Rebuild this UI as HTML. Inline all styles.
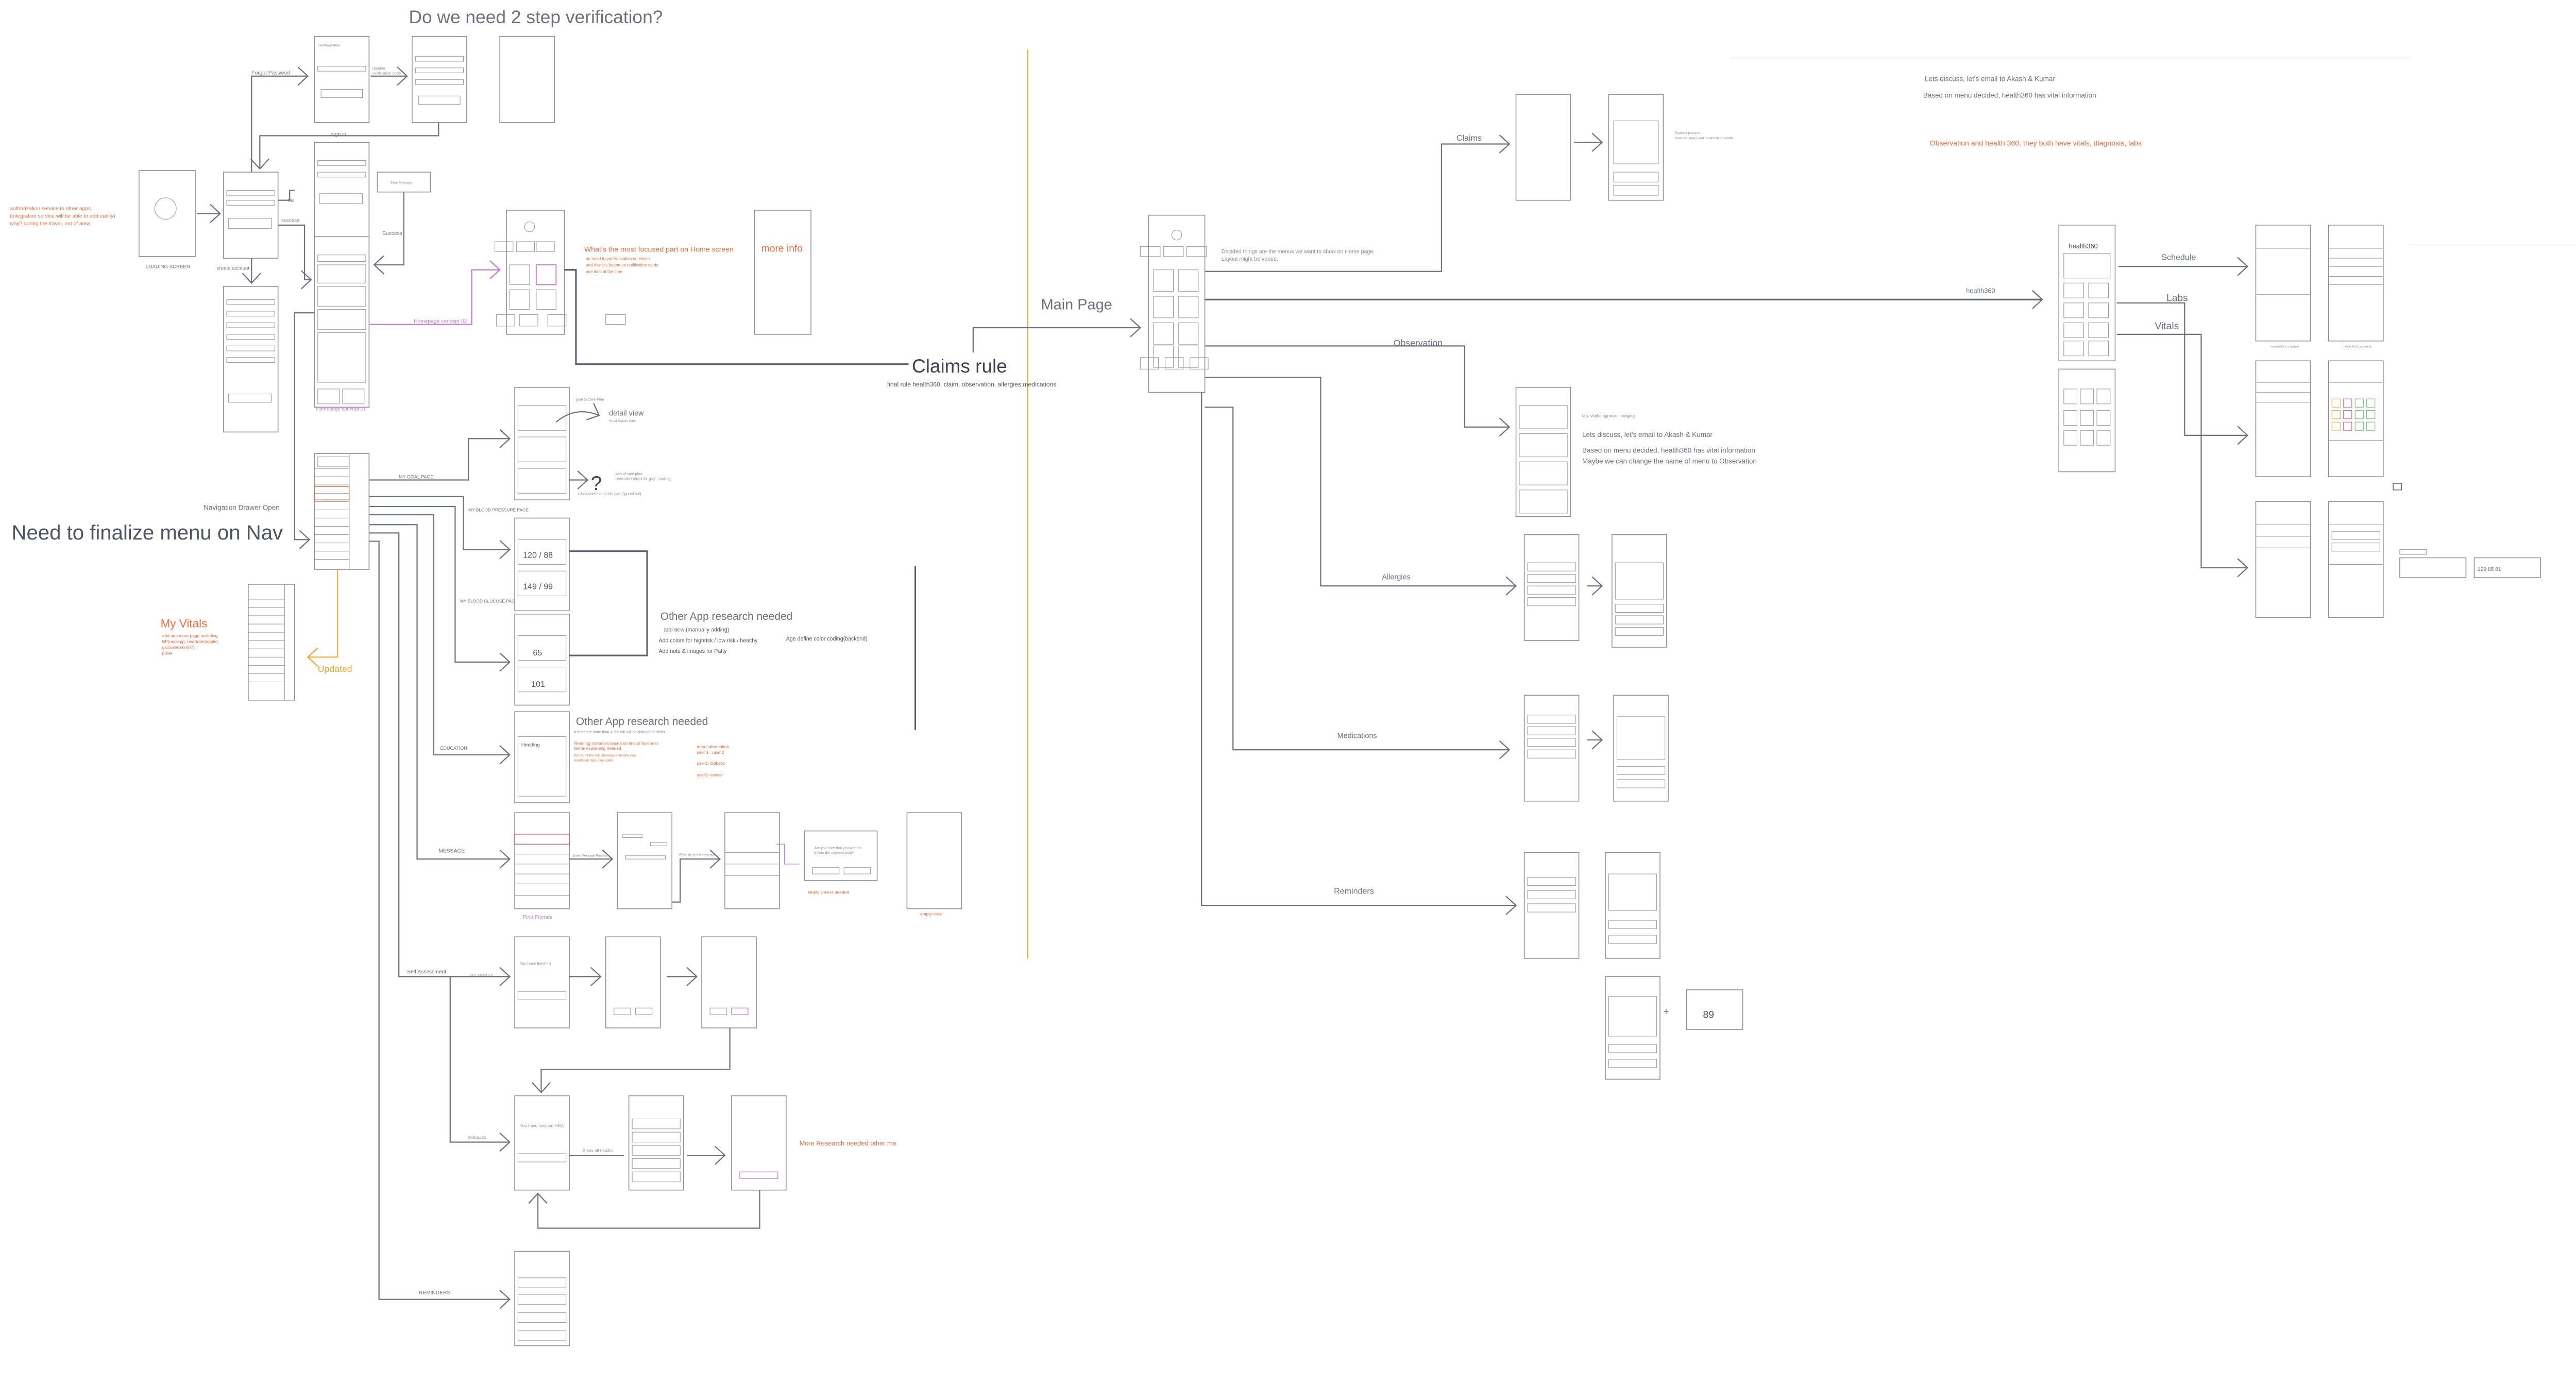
<!DOCTYPE html>
<html><head><meta charset="utf-8"><style>
html,body{margin:0;padding:0;background:#fff;}
svg{display:block;}
text{font-family:"Liberation Sans",sans-serif;}
.p{fill:#fff;stroke:#8d909c;stroke-width:.5}
.b{fill:none;stroke:#9a9caa;stroke-width:.35}
.l{fill:none;stroke:#6e7185;stroke-width:.7}
.L{fill:none;stroke:#5e6275;stroke-width:1}
.g{fill:#6d7080}
.o{fill:#f26a3a}
.s{fill:#8d909c}
</style></head><body>
<svg width="5037" height="2715" viewBox="0 0 1568 845.2" preserveAspectRatio="none" xmlns="http://www.w3.org/2000/svg">
<defs>
<marker id="a" markerUnits="userSpaceOnUse" markerWidth="10" markerHeight="12" refX="7" refY="6" orient="auto"><path d="M1 0.5 L7 6 L1 11.5" fill="none" stroke="#6e7185" stroke-width=".7"/></marker>
<marker id="ao" markerUnits="userSpaceOnUse" markerWidth="10" markerHeight="12" refX="7" refY="6" orient="auto"><path d="M1 0.5 L7 6 L1 11.5" fill="none" stroke="#f5a623" stroke-width=".7"/></marker>
<marker id="ap" markerUnits="userSpaceOnUse" markerWidth="10" markerHeight="12" refX="7" refY="6" orient="auto"><path d="M1 0.5 L7 6 L1 11.5" fill="none" stroke="#c67ad8" stroke-width=".7"/></marker>
</defs>
<rect width="1568" height="845.2" fill="#fff"/>

<!-- faint lines -->
<line x1="1046" y1="35" x2="1457" y2="35" stroke="#e6e6ea" stroke-width=".4"/>
<line x1="1455" y1="148" x2="1568" y2="148" stroke="#e6e6ea" stroke-width=".4"/>
<!-- orange vertical -->
<line x1="621" y1="30" x2="621" y2="579" stroke="#f5a623" stroke-width=".6"/>
<line x1="553" y1="342" x2="553" y2="441" stroke="#3d4150" stroke-width=".8"/>

<!-- TITLES -->
<text x="247" y="14" font-size="11" class="g">Do we need 2 step verification?</text>
<text x="7" y="326" font-size="12.5" fill="#4f5364">Need to finalize menu on Nav</text>
<text x="123" y="308" font-size="4.2" class="g">Navigation Drawer  Open</text>
<text x="551" y="225" font-size="11.5" fill="#3d4150">Claims rule</text>
<text x="536" y="233.5" font-size="3.8" fill="#555a6e">final rule health360, claim, observation, allergies,medications</text>
<text x="629" y="187" font-size="9" class="g">Main Page</text>

<!-- LEFT AREA phones -->
<rect class="p" x="190" y="22" width="33" height="52"/>
<rect class="b" x="192" y="40" width="29" height="3"/><rect class="b" x="194" y="54" width="25" height="5"/>
<text x="192" y="28" font-size="2" class="s">healthwalletme</text>
<rect class="p" x="249" y="22" width="33" height="52"/>
<rect class="b" x="251" y="34" width="29" height="3"/><rect class="b" x="251" y="41" width="29" height="3"/><rect class="b" x="251" y="48" width="29" height="3"/><rect class="b" x="253" y="58" width="25" height="5"/>
<rect class="p" x="302" y="22" width="33" height="52"/>
<rect class="p" x="84" y="103" width="34" height="52"/>
<circle cx="100" cy="126" r="6.5" class="b"/>
<text x="88" y="162" font-size="3" class="g">LOADING SCREEN</text>
<rect class="p" x="135" y="104" width="33" height="52"/>
<rect class="b" x="137" y="115" width="29" height="3"/><rect class="b" x="137" y="121" width="29" height="3"/><rect class="b" x="138" y="132" width="26" height="6"/>
<rect class="p" x="135" y="173" width="33" height="88"/>
<rect class="b" x="137" y="181" width="29" height="3"/><rect class="b" x="137" y="188" width="29" height="3"/><rect class="b" x="137" y="195" width="29" height="3"/><rect class="b" x="137" y="202" width="29" height="3"/><rect class="b" x="137" y="209" width="29" height="3"/><rect class="b" x="137" y="216" width="29" height="3"/><rect class="b" x="138" y="238" width="26" height="5"/>
<rect class="p" x="190" y="86" width="33" height="58"/>
<rect class="b" x="192" y="97" width="29" height="3"/><rect class="b" x="192" y="104" width="29" height="3"/><rect class="b" x="193" y="117" width="26" height="6"/>
<rect class="p" x="228" y="104" width="32" height="12"/>
<text x="236" y="111" font-size="2" class="s">Error Message</text>
<rect class="p" x="190" y="143" width="33" height="103"/>
<rect class="b" x="192" y="154" width="29" height="4"/><rect class="b" x="192" y="160" width="29" height="11"/><rect class="b" x="192" y="173" width="29" height="12"/><rect class="b" x="192" y="187" width="29" height="12"/><rect class="b" x="192" y="201" width="29" height="30"/><rect class="b" x="192" y="235" width="13" height="9"/><rect class="b" x="207" y="235" width="13" height="9"/>
<text x="191" y="248" font-size="3" fill="#c67ad8">Homepage concept 01</text>
<rect class="p" x="306" y="127" width="35" height="75"/>
<circle cx="320" cy="137" r="3" class="b"/>
<rect class="b" x="299" y="146" width="11" height="6"/><rect class="b" x="312" y="146" width="11" height="6"/><rect class="b" x="324" y="146" width="11" height="6"/>
<rect class="b" x="308" y="160" width="12" height="12"/><rect class="p" x="324" y="160" width="12" height="12" style="stroke:#c67ad8;stroke-width:.6"/><rect class="b" x="308" y="175" width="12" height="12"/><rect class="b" x="324" y="175" width="12" height="12"/>
<rect class="b" x="300" y="190" width="11" height="7"/><rect class="b" x="314" y="190" width="11" height="7"/><rect class="b" x="331" y="190" width="11" height="7"/>
<rect class="b" x="366" y="190" width="12" height="6"/>
<rect class="p" x="456" y="127" width="34" height="75"/>
<text x="460" y="152" font-size="6" class="o">more info</text>
<text x="353" y="152" font-size="4.4" class="o">What's the most focused part on Home screen</text>
<text x="354" y="157" font-size="2.5" class="o">no need to put Education on Home</text>
<text x="354" y="161" font-size="2.5" class="o">add dismiss button on notification cards</text>
<text x="354" y="165" font-size="2.5" class="o">one item at the time</text>
<text x="250" y="195" font-size="3.2" fill="#c67ad8">Homepage concept 02</text>
<text x="6" y="127" font-size="3.2" class="o">authorization service to other apps.</text>
<text x="6" y="131.5" font-size="3.2" class="o">(integration service will be able to add easily)</text>
<text x="6" y="136" font-size="3.2" class="o">why? during the travel, out of area.</text>

<!-- left connectors -->
<polyline class="l" points="119,129 133,129" marker-end="url(#a)"/>
<polyline class="l" points="152,104 152,46 186,46" marker-end="url(#a)"/>
<text x="152" y="45" font-size="3.2" class="g">Forgot Passwod</text>
<polyline class="l" points="224,46 246,46" marker-end="url(#a)"/>
<text x="225" y="42" font-size="2.4" class="s">receive</text><text x="225" y="45" font-size="2.4" class="s">verification code</text>
<polyline class="l" points="265,74 265,82 157,82 157,102" marker-end="url(#a)"/>
<text x="200" y="82" font-size="3.2" class="g">sign in</text>
<polyline class="l" points="168,121 175,121 175,115 178,115"/>
<text x="174" y="122" font-size="3" class="g">fail</text>
<polyline class="l" points="168,136 184,136 184,169 188,169" marker-end="url(#a)"/>
<text x="170" y="134" font-size="3" class="g">success</text>
<polyline class="l" points="244,116 244,160 226,160" marker-end="url(#a)"/>
<text x="231" y="142" font-size="3.2" class="g">Success</text>
<polyline class="l" points="152,156 152,171" marker-end="url(#a)"/>
<text x="131" y="163" font-size="3" class="g">create account</text>
<polyline points="223,196 285,196 285,163 302,163" fill="none" stroke="#c67ad8" stroke-width=".7" marker-end="url(#ap)"/>
<polyline class="L" points="341,163 348,163 348,220 549,220"/>
<polyline class="l" points="588,213 588,198 689,198" marker-end="url(#a)"/>
<polyline class="l" points="190,189 178,189 178,326 187,326" marker-end="url(#a)"/>

<!-- Nav drawer -->
<rect class="p" x="190" y="274" width="33" height="70"/>
<rect class="b" x="192" y="276" width="19" height="6"/>
<g class="b"><line x1="190" y1="283" x2="211" y2="283"/><line x1="190" y1="288" x2="211" y2="288"/><line x1="190" y1="293" x2="211" y2="293"/><line x1="190" y1="298" x2="211" y2="298"/><line x1="190" y1="303" x2="211" y2="303"/><line x1="190" y1="308" x2="211" y2="308"/><line x1="190" y1="313" x2="211" y2="313"/><line x1="190" y1="318" x2="211" y2="318"/><line x1="190" y1="323" x2="211" y2="323"/><line x1="190" y1="328" x2="211" y2="328"/><line x1="190" y1="333" x2="211" y2="333"/><line x1="190" y1="338" x2="211" y2="338"/><line x1="211" y1="274" x2="211" y2="344"/></g>
<rect x="190" y="294" width="21" height="8" fill="none" stroke="#f26a3a" stroke-width=".4"/>
<rect class="p" x="150" y="353" width="28" height="70"/>
<g class="b"><line x1="150" y1="362" x2="172" y2="362"/><line x1="150" y1="367" x2="172" y2="367"/><line x1="150" y1="372" x2="172" y2="372"/><line x1="150" y1="377" x2="172" y2="377"/><line x1="150" y1="382" x2="172" y2="382"/><line x1="150" y1="387" x2="172" y2="387"/><line x1="150" y1="392" x2="172" y2="392"/><line x1="150" y1="397" x2="172" y2="397"/><line x1="150" y1="402" x2="172" y2="402"/><line x1="150" y1="407" x2="172" y2="407"/><line x1="150" y1="412" x2="172" y2="412"/><line x1="172" y1="353" x2="172" y2="423"/></g>
<text x="97" y="379" font-size="7" class="o">My Vitals</text>
<text x="98" y="385" font-size="2.6" class="o">add one more page including</text>
<text x="98" y="388.5" font-size="2.6" class="o">BP(nursing), heartrate(apple),</text>
<text x="98" y="392" font-size="2.6" class="o">glucose(omron?),</text>
<text x="98" y="395.5" font-size="2.6" class="o">pulse</text>
<polyline points="204,344 204,397 186,397" fill="none" stroke="#f5a623" stroke-width=".6" marker-end="url(#ao)"/>
<text x="192" y="406" font-size="5.5" fill="#f5a623">Updated</text>

<!-- nav connectors -->
<polyline class="l" points="223,290 283,290 283,265 308,265" marker-end="url(#a)"/>
<text x="241" y="289" font-size="2.8" class="g">MY GOAL PAGE</text>
<polyline class="l" points="223,300 280,300 280,332 308,332" marker-end="url(#a)"/>
<text x="283" y="309" font-size="2.6" class="g">MY BLOOD PRESSURE PAGE</text>
<polyline class="l" points="223,306 275,306 275,400 308,400" marker-end="url(#a)"/>
<text x="278" y="364" font-size="2.6" class="g">MY BLOOD GLUCOSE PAGE</text>
<polyline class="l" points="223,311 262,311 262,456 308,456" marker-end="url(#a)"/>
<text x="266" y="453" font-size="2.8" class="g">EDUCATION</text>
<polyline class="l" points="223,317 252,317 252,519 308,519" marker-end="url(#a)"/>
<text x="265" y="515" font-size="3.2" class="g">MESSAGE</text>
<polyline class="l" points="223,322 241,322 241,590 308,590" marker-end="url(#a)"/>
<text x="246" y="588" font-size="3.2" class="g">Self Assessment</text>
<text x="284" y="590" font-size="2" class="s">NOT FINISHED</text>
<polyline class="l" points="272,590 272,690 308,690" marker-end="url(#a)"/>
<text x="283" y="688" font-size="2" class="s">ENROLLED</text>
<polyline class="l" points="223,327 229,327 229,785 308,785" marker-end="url(#a)"/>
<text x="253" y="782" font-size="3.2" class="g">REMINDERS</text>

<!-- goal -->
<rect class="p" x="311" y="234" width="33" height="68"/>
<rect class="b" x="313" y="245" width="29" height="15"/><rect class="b" x="313" y="264" width="29" height="15"/><rect class="b" x="313" y="283" width="29" height="15"/>
<text x="348" y="242" font-size="2.2" class="s">goal to Care Plan</text>
<path class="l" d="M336 255 Q348 245 362 251" marker-end="url(#a)"/>
<text x="368" y="251" font-size="4.5" class="g">detail view</text>
<text x="368" y="255" font-size="2" class="s">Read Details Path</text>
<polyline class="l" points="344,290 355,290" marker-end="url(#a)"/>
<text x="357" y="296" font-size="12" fill="#3d4150">?</text>
<text x="372" y="287" font-size="2.2" class="s">part of care plan,</text>
<text x="372" y="290" font-size="2.2" class="s">reminder / check for goal, tracking</text>
<text x="349" y="299" font-size="2.2" class="s">I don't understand this part (figured out)</text>

<!-- BP / glucose -->
<rect class="p" x="311" y="313" width="33" height="56"/>
<rect class="b" x="313" y="326" width="29" height="15"/><rect class="b" x="313" y="345" width="29" height="15"/>
<text x="316" y="337" font-size="5" fill="#555">120 / 88</text><text x="316" y="356" font-size="5" fill="#555">149 / 99</text>
<rect class="p" x="311" y="371" width="33" height="55"/>
<rect class="b" x="313" y="384" width="29" height="15"/><rect class="b" x="313" y="403" width="29" height="15"/>
<text x="322" y="396" font-size="5" fill="#555">65</text><text x="321" y="415" font-size="5" fill="#555">101</text>
<polyline class="L" points="344,333 391,333 391,396 344,396"/>
<text x="399" y="374.5" font-size="6.5" class="g">Other App research needed</text>
<text x="401" y="381.5" font-size="3.3" fill="#555a6e">add new (manually adding)</text>
<text x="398" y="388" font-size="3.3" fill="#555a6e">Add colors for highrisk / low risk / healthy</text>
<text x="475" y="387" font-size="3.3" fill="#555a6e">Age define color coding(backend)</text>
<text x="398" y="394.5" font-size="3.3" fill="#555a6e">Add note &amp; images for Patty</text>

<!-- education -->
<rect class="p" x="311" y="430" width="33" height="55"/>
<rect class="b" x="313" y="445" width="29" height="36"/>
<text x="315" y="451" font-size="3" fill="#555">Heading</text>
<text x="348" y="438" font-size="6.5" class="g">Other App research needed</text>
<text x="347" y="443" font-size="2.2" class="s">If there are more than 4, the tab will be changed to slider</text>
<text x="347" y="450" font-size="2.6" class="o">Reading materials based on line of business</text>
<text x="347" y="453" font-size="2.6" class="o">terms explaining needed</text>
<text x="347" y="457" font-size="2" class="o">this is not the link, showing on mobile view</text>
<text x="347" y="460" font-size="2" class="o">handbook, tips, user guide</text>
<text x="421" y="452" font-size="2.6" class="o">more information</text>
<text x="421" y="455.5" font-size="2.6" class="o">user 1 , user 2</text>
<text x="421" y="462" font-size="2.6" class="o">user1- diabetic</text>
<text x="421" y="469" font-size="2.6" class="o">user2- cancer</text>

<!-- message -->
<rect class="p" x="311" y="491" width="33" height="58"/>
<rect x="311" y="504" width="33" height="6" fill="none" stroke="#e0505a" stroke-width=".4"/>
<g class="b"><line x1="311" y1="516" x2="344" y2="516"/><line x1="311" y1="522" x2="344" y2="522"/><line x1="311" y1="528" x2="344" y2="528"/><line x1="311" y1="534" x2="344" y2="534"/><line x1="311" y1="541" x2="344" y2="541"/></g>
<text x="316" y="555" font-size="3.2" fill="#c67ad8">Find Friends</text>
<polyline class="l" points="344,519 370,519" marker-end="url(#a)"/>
<text x="346" y="517.5" font-size="2" class="s">Enter Message Process</text>
<rect class="p" x="373" y="491" width="33" height="58"/>
<rect class="b" x="376" y="504" width="12" height="2"/><rect class="b" x="393" y="509" width="10" height="2"/><rect class="b" x="378" y="517" width="24" height="2"/>
<polyline class="l" points="406,545 411,545 411,519 435,519" marker-end="url(#a)"/>
<text x="410" y="517" font-size="2" class="s">When done the message</text>
<rect class="p" x="438" y="491" width="33" height="58"/>
<g class="b"><line x1="438" y1="515" x2="471" y2="515"/><line x1="438" y1="522" x2="471" y2="522"/><line x1="438" y1="529" x2="471" y2="529"/></g>
<polyline points="469,510 474,510 474,522 483,522" fill="none" stroke="#c67ad8" stroke-width=".4"/>
<rect class="p" x="486" y="502" width="44" height="30"/>
<rect class="b" x="491" y="524" width="16" height="4"/><rect class="b" x="510" y="524" width="16" height="4"/>
<text x="492" y="513" font-size="2.2" class="s">Are you sure that you want to</text>
<text x="492" y="516" font-size="2.2" class="s">delete the conversation?</text>
<text x="488" y="540" font-size="2.6" class="o">empty view is needed</text>
<rect class="p" x="548" y="491" width="33" height="58"/>
<text x="556" y="553" font-size="2.6" class="o">empty view</text>

<!-- self assessment -->
<rect class="p" x="311" y="566" width="33" height="55"/><rect class="b" x="313" y="599" width="29" height="5"/>
<text x="314" y="583" font-size="2.4" class="s">You have finished</text>
<polyline class="l" points="344,590 363,590" marker-end="url(#a)"/>
<rect class="p" x="366" y="566" width="33" height="55"/><rect class="b" x="371" y="609" width="10" height="4"/><rect class="b" x="384" y="609" width="10" height="4"/>
<polyline class="l" points="403,590 421,590" marker-end="url(#a)"/>
<rect class="p" x="424" y="566" width="33" height="55"/><rect class="b" x="429" y="609" width="10" height="4"/><rect x="442" y="609" width="10" height="4" fill="none" stroke="#c67ad8" stroke-width=".4"/>
<polyline class="l" points="441,621 441,646 327,646 327,660" marker-end="url(#a)"/>

<!-- assessment -->
<rect class="p" x="311" y="662" width="33" height="57"/><rect class="b" x="313" y="697" width="29" height="5"/>
<text x="314" y="681" font-size="2.6" class="s">You have finished HRA</text>
<polyline class="l" points="344,698 377,698"/>
<text x="352" y="696" font-size="2.6" class="s">Show all results</text>
<rect class="p" x="380" y="662" width="33" height="57"/>
<rect class="b" x="382" y="676" width="29" height="6"/><rect class="b" x="382" y="684" width="29" height="6"/><rect class="b" x="382" y="692" width="29" height="6"/><rect class="b" x="382" y="700" width="29" height="6"/><rect class="b" x="382" y="708" width="29" height="6"/>
<polyline class="l" points="415,698 438,698" marker-end="url(#a)"/>
<rect class="p" x="442" y="662" width="33" height="57"/><rect x="447" y="708" width="23" height="4" fill="none" stroke="#c67ad8" stroke-width=".4"/>
<polyline class="l" points="459,719 459,742 325,742 325,721" marker-end="url(#a)"/>
<text x="483" y="692" font-size="4" class="o">More Research needed other me</text>

<!-- reminders -->
<rect class="p" x="311" y="756" width="33" height="57"/>
<rect class="b" x="313" y="772" width="29" height="6"/><rect class="b" x="313" y="782" width="29" height="6"/><rect class="b" x="313" y="793" width="29" height="6"/><rect class="b" x="313" y="804" width="29" height="6"/>

<!-- MAIN PAGE -->
<rect class="p" x="694" y="130" width="34" height="107"/>
<circle cx="711" cy="142" r="3" class="b"/>
<rect class="b" x="689" y="149" width="12" height="6"/><rect class="b" x="703" y="149" width="12" height="6"/><rect class="b" x="717" y="149" width="12" height="6"/>
<rect class="b" x="697" y="163" width="12" height="13"/><rect class="b" x="712" y="163" width="12" height="13"/><rect class="b" x="697" y="179" width="12" height="13"/><rect class="b" x="712" y="179" width="12" height="13"/><rect class="b" x="697" y="195" width="12" height="13"/><rect class="b" x="712" y="195" width="12" height="13"/>
<rect class="b" x="697" y="209" width="12" height="13"/><rect class="b" x="712" y="209" width="12" height="13"/>
<rect class="b" x="689" y="216" width="11" height="7"/><rect class="b" x="704" y="216" width="11" height="7"/><rect class="b" x="719" y="216" width="11" height="7"/>
<text x="738" y="153" font-size="3.3" class="s">Decided things are the menus we want to show on Home page.</text>
<text x="738" y="157.5" font-size="3.3" class="s">Layout might be varied.</text>

<polyline class="l" points="728,164 871,164 871,87 912,87" marker-end="url(#a)"/>
<text x="880" y="85" font-size="5" class="g">Claims</text>
<polyline class="L" points="728,181 1234,181" marker-end="url(#a)"/>
<text x="1188" y="177" font-size="4" class="g">health360</text>
<polyline class="l" points="728,209 885,209 885,258 912,258" marker-end="url(#a)"/>
<text x="842" y="209" font-size="5.5" class="g">Observation</text>
<polyline class="l" points="728,228 798,228 798,354 916,354" marker-end="url(#a)"/>
<text x="835" y="350" font-size="4.5" class="g">Allergies</text>
<polyline class="l" points="728,246 745,246 745,453 912,453" marker-end="url(#a)"/>
<text x="808" y="446" font-size="4.5" class="g">Medications</text>
<polyline class="l" points="726,237 726,547 916,547" marker-end="url(#a)"/>
<text x="806" y="540" font-size="5" class="g">Reminders</text>

<!-- claims phones -->
<rect class="p" x="916" y="57" width="33" height="64"/>
<rect class="p" x="972" y="57" width="33" height="64"/><rect class="b" x="975" y="73" width="27" height="26"/><rect class="b" x="975" y="104" width="27" height="6"/><rect class="b" x="975" y="112" width="27" height="6"/>
<polyline class="l" points="951,86 968,86" marker-end="url(#a)"/>
<text x="1012" y="81" font-size="2" class="s">Redirect process</text>
<text x="1012" y="84" font-size="2" class="s">claim list, may need to refresh or recent</text>

<!-- observation -->
<rect class="p" x="916" y="234" width="33" height="78"/>
<rect class="b" x="918" y="245" width="29" height="14"/><rect class="b" x="918" y="262" width="29" height="14"/><rect class="b" x="918" y="279" width="29" height="14"/><rect class="b" x="918" y="296" width="29" height="14"/>
<text x="956" y="252" font-size="2.6" class="s">lab, vital,diagnosis, imaging</text>
<text x="956" y="264" font-size="4.2" class="g">Lets discuss, let's email to Akash &amp; Kumar</text>
<text x="956" y="273.5" font-size="4.2" class="g">Based on menu decided, health360 has vital information</text>
<text x="956" y="280" font-size="4.2" class="g">Maybe we can change the name of menu to Observation</text>

<!-- allergies -->
<rect class="p" x="921" y="323" width="33" height="64"/>
<rect class="b" x="923" y="340" width="29" height="5"/><rect class="b" x="923" y="347" width="29" height="5"/><rect class="b" x="923" y="354" width="29" height="5"/><rect class="b" x="923" y="361" width="29" height="5"/>
<polyline class="l" points="959,354 968,354" marker-end="url(#a)"/>
<rect class="p" x="974" y="323" width="33" height="68"/>
<rect class="b" x="976" y="340" width="29" height="22"/><rect class="b" x="976" y="365" width="29" height="5"/><rect class="b" x="976" y="372" width="29" height="5"/><rect class="b" x="976" y="379" width="29" height="5"/>

<!-- medications -->
<rect class="p" x="921" y="420" width="33" height="64"/>
<rect class="b" x="923" y="432" width="29" height="5"/><rect class="b" x="923" y="439" width="29" height="5"/><rect class="b" x="923" y="446" width="29" height="5"/><rect class="b" x="923" y="453" width="29" height="5"/>
<polyline class="l" points="959,447 968,447" marker-end="url(#a)"/>
<rect class="p" x="975" y="420" width="33" height="64"/>
<rect class="b" x="977" y="433" width="29" height="26"/><rect class="b" x="977" y="463" width="29" height="5"/><rect class="b" x="977" y="471" width="29" height="5"/>

<!-- reminders right -->
<rect class="p" x="921" y="515" width="33" height="64"/>
<rect class="b" x="923" y="530" width="29" height="5"/><rect class="b" x="923" y="538" width="29" height="5"/><rect class="b" x="923" y="546" width="29" height="5"/>
<rect class="p" x="970" y="515" width="33" height="64"/>
<rect class="b" x="972" y="528" width="29" height="22"/><rect class="b" x="972" y="556" width="29" height="5"/><rect class="b" x="972" y="565" width="29" height="5"/>
<rect class="p" x="970" y="590" width="33" height="62"/>
<rect class="b" x="972" y="602" width="29" height="24"/><rect class="b" x="972" y="631" width="29" height="5"/><rect class="b" x="972" y="640" width="29" height="5"/>
<text x="1005" y="613" font-size="6" class="g">+</text>
<rect class="p" x="1019" y="598" width="34" height="24"/>
<text x="1029" y="615" font-size="6" fill="#555">89</text>

<!-- health360 -->
<rect class="p" x="1244" y="136" width="34" height="82"/>
<text x="1250" y="150" font-size="4" fill="#444">health360</text>
<rect class="b" x="1247" y="153" width="28" height="15"/>
<rect class="b" x="1247" y="171" width="12" height="9"/><rect class="b" x="1262" y="171" width="12" height="9"/><rect class="b" x="1247" y="183" width="12" height="9"/><rect class="b" x="1262" y="183" width="12" height="9"/><rect class="b" x="1247" y="195" width="12" height="9"/><rect class="b" x="1262" y="195" width="12" height="9"/><rect class="b" x="1247" y="206" width="12" height="9"/><rect class="b" x="1262" y="206" width="12" height="9"/>
<rect class="p" x="1244" y="223" width="34" height="62"/>
<rect class="b" x="1247" y="235" width="8" height="9"/><rect class="b" x="1257" y="235" width="8" height="9"/><rect class="b" x="1267" y="235" width="8" height="9"/><rect class="b" x="1247" y="248" width="8" height="9"/><rect class="b" x="1257" y="248" width="8" height="9"/><rect class="b" x="1267" y="248" width="8" height="9"/><rect class="b" x="1247" y="260" width="8" height="9"/><rect class="b" x="1257" y="260" width="8" height="9"/><rect class="b" x="1267" y="260" width="8" height="9"/>

<polyline class="l" points="1280,161 1358,161" marker-end="url(#a)"/>
<text x="1306" y="157" font-size="5" class="g">Schedule</text>
<polyline class="l" points="1279,183 1320,183 1320,263 1358,263" marker-end="url(#a)"/>
<text x="1309" y="182" font-size="6" class="g">Labs</text>
<polyline class="l" points="1279,202 1330,202 1330,343 1358,343" marker-end="url(#a)"/>
<text x="1302" y="199" font-size="6" class="g">Vitals</text>

<rect class="p" x="1363" y="136" width="33" height="70"/><line class="b" x1="1363" y1="150" x2="1396" y2="150"/><line class="b" x1="1363" y1="178" x2="1396" y2="178"/>
<rect class="p" x="1407" y="136" width="33" height="70"/><line class="b" x1="1407" y1="150" x2="1440" y2="150"/><line class="b" x1="1407" y1="156" x2="1440" y2="156"/><line class="b" x1="1407" y1="161" x2="1440" y2="161"/><line class="b" x1="1407" y1="167" x2="1440" y2="167"/><line class="b" x1="1407" y1="172" x2="1440" y2="172"/>
<text x="1372" y="210" font-size="1.8" class="s">health360 2 schedule</text><text x="1416" y="210" font-size="1.8" class="s">health360 2 schedule</text>
<rect class="p" x="1363" y="218" width="33" height="70"/><line class="b" x1="1363" y1="231" x2="1396" y2="231"/><line class="b" x1="1363" y1="237" x2="1396" y2="237"/><line class="b" x1="1363" y1="243" x2="1396" y2="243"/>
<rect class="p" x="1407" y="218" width="33" height="70"/><line class="b" x1="1407" y1="231" x2="1440" y2="231"/>
<g fill="none" stroke-width=".3"><rect x="1409" y="241" width="5" height="5" stroke="#f5a623"/><rect x="1416" y="241" width="5" height="5" stroke="#e04c7a"/><rect x="1423" y="241" width="5" height="5" stroke="#5cb85c"/><rect x="1430" y="241" width="5" height="5" stroke="#5cb85c"/><rect x="1409" y="248" width="5" height="5" stroke="#f5a623"/><rect x="1416" y="248" width="5" height="5" stroke="#e04c7a"/><rect x="1423" y="248" width="5" height="5" stroke="#5cb85c"/><rect x="1430" y="248" width="5" height="5" stroke="#5cb85c"/><rect x="1409" y="255" width="5" height="5" stroke="#f5a623"/><rect x="1416" y="255" width="5" height="5" stroke="#e04c7a"/><rect x="1423" y="255" width="5" height="5" stroke="#5cb85c"/><rect x="1430" y="255" width="5" height="5" stroke="#5cb85c"/></g>
<line class="b" x1="1407" y1="266" x2="1440" y2="266"/>
<rect class="p" x="1363" y="303" width="33" height="70"/><line class="b" x1="1363" y1="317" x2="1396" y2="317"/><line class="b" x1="1363" y1="324" x2="1396" y2="324"/><line class="b" x1="1363" y1="331" x2="1396" y2="331"/>
<rect class="p" x="1407" y="303" width="33" height="70"/><line class="b" x1="1407" y1="317" x2="1440" y2="317"/><rect class="b" x="1409" y="321" width="29" height="5"/><rect class="b" x="1409" y="328" width="29" height="5"/><line class="b" x1="1407" y1="341" x2="1440" y2="341"/>
<rect x="1446" y="292" width="5" height="4" fill="none" stroke="#444" stroke-width=".4"/>
<rect class="b" x="1450" y="332" width="16" height="3"/>
<rect class="p" x="1450" y="337" width="40" height="12"/>
<rect class="p" x="1495" y="337" width="40" height="12"/>
<text x="1497" y="345" font-size="3.2" class="g">129   85   81</text>

<!-- top-right notes -->
<text x="1163" y="49" font-size="4.2" class="g">Lets discuss, let's email to Akash &amp; Kumar</text>
<text x="1162" y="59" font-size="4.2" class="g">Based on menu decided, health360 has vital information</text>
<text x="1166" y="88" font-size="4.4" class="o">Observation and health 360, they both have vitals, diagnosis, labs</text>
</svg>
</body></html>
